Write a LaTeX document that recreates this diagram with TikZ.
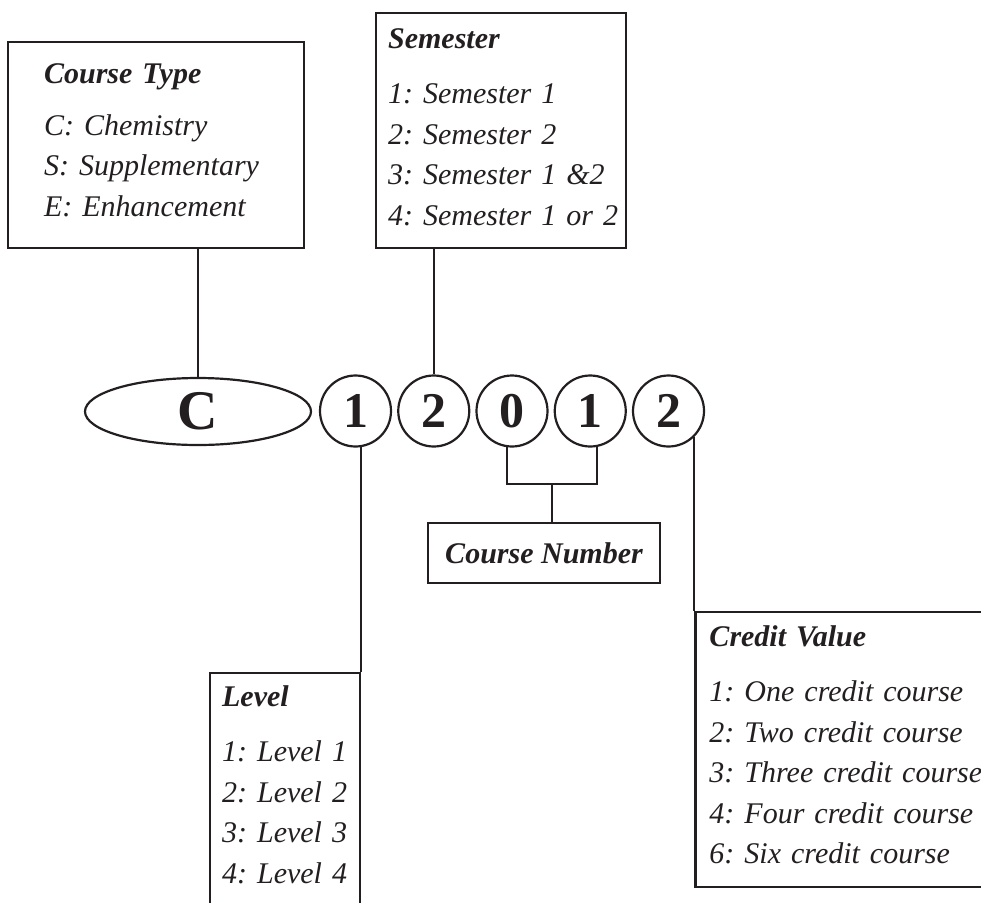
\documentclass[tikz,border=0pt]{standalone}
\usepackage{fontspec}
\setmainfont{Liberation Serif}
\usetikzlibrary{shapes.geometric}
\definecolor{ink}{HTML}{231F20}

\tikzset{
  every node/.style={text=ink},
  link/.style={draw=ink,line width=2.2pt},
  keybox/.style={link,rectangle,align=left,inner ysep=0pt,
    font=\fontsize{30}{40.5}\selectfont\itshape},
  digit/.style={link,circle,minimum size=71pt,inner sep=0pt,
    font=\fontsize{50}{50}\selectfont\bfseries},
  letter/.style={link,ellipse,minimum width=226pt,minimum height=67pt,inner sep=0pt,
    font=\fontsize{56}{56}\selectfont\bfseries}
}

\begin{document}
\begin{tikzpicture}[x=1pt,y=-1pt]
      \path[use as bounding box,clip] (0,0) rectangle (981,902);

      % the code itself
      \node [letter] (C) at (198,411.5) {C};
      \foreach \d [count=\i] in {1,2,0,1,2}
        \node [digit] (d\i) at ({355.5+78.25*(\i-1)},411) {\d};

      % keys above
      \node [keybox,anchor=north west,inner xsep=36pt,text width=224pt,
             text height=41pt,text depth=165pt] (type) at (7,41)
        {\textbf{Course Type}\\[11.5pt]C:~Chemistry\\S:~Supplementary\\E:~Enhancement};
      \node [keybox,anchor=north west,inner xsep=12pt,text width=226pt,
             text height=35pt,text depth=200pt] (sem) at (375,12)
        {\textbf{Semester}\\[15pt]1:~Semester~1\\2:~Semester~2\\3:~Semester~1~\&2\\4:~Semester~1~or~2};

      % keys below
      \coordinate (lvltop) at (0,672);
      \coordinate (crdtop) at (0,611);
      \node [keybox,anchor=north east,inner xsep=12pt,text width=126pt,
             text height=33pt,text depth=260pt] (lvl) at (d1.279 |- lvltop)
        {\textbf{Level}\\[15pt]1:~Level~1\\2:~Level~2\\3:~Level~3\\4:~Level~4};
      \node [keybox,anchor=north west,inner xsep=14pt,text width=300pt,
             text height=34pt,text depth=241pt] (crd) at (d5.-45 |- crdtop)
        {\textbf{Credit Value}\\[15pt]1:~One~credit~course\\2:~Two~credit~course\\3:~Three~credit~course\\4:~Four~credit~course\\6:~Six~credit~course};
      \node [link,rectangle,minimum width=232pt,minimum height=60pt,
             font=\fontsize{30}{30}\selectfont\bfseries\itshape] (num) at (544,553) {Course Number};

      \draw [link] (C.north |- type.south) -- (C.north);
      \draw [link] (d2.north |- sem.south) -- (d2.north);
      \draw [link] (d1.279) -- (lvl.north east);
      \draw [link] (d5.-45) -- (crd.north west);
      \coordinate (numjoin) at (552,484);
      \draw [link] (d3.262) |- (numjoin) -| (d4.281);
      \draw [link] (numjoin) -- (numjoin |- num.north);
\end{tikzpicture}
\end{document}
